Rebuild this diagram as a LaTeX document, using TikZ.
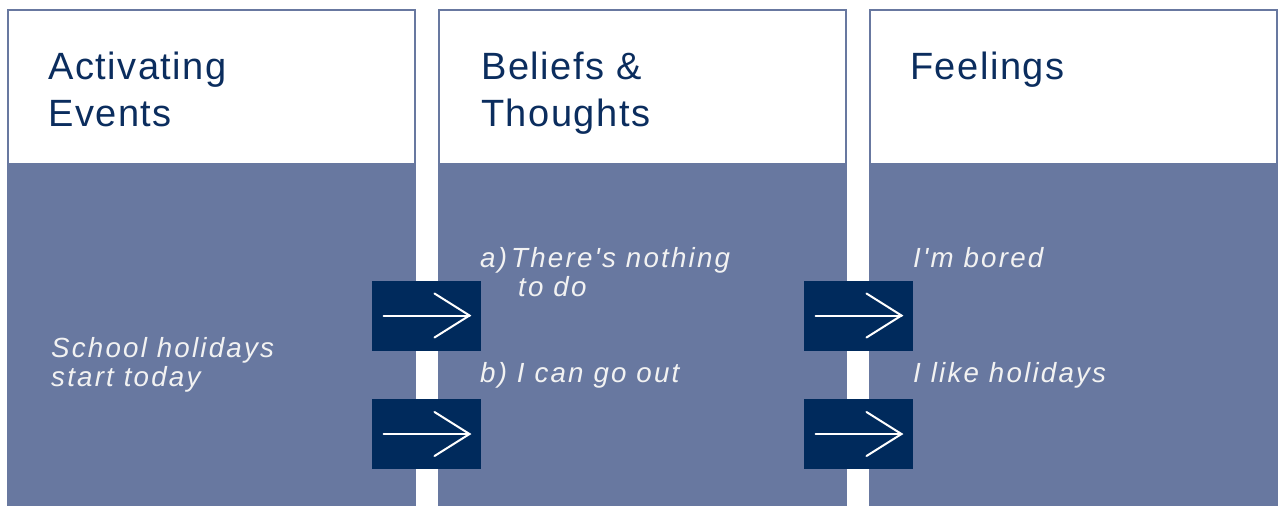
\documentclass[tikz,border=0pt]{standalone}
\usepackage{fontspec}
\setmainfont{Liberation Sans}
\newfontfamily\headfont[LetterSpace=4]{Liberation Sans}
\newfontfamily\bodyfont[LetterSpace=8]{Liberation Sans}
\definecolor{panelblue}{HTML}{6878A0}
\definecolor{boxnavy}{HTML}{002A5C}
\definecolor{headtext}{HTML}{0B2D5E}
\definecolor{bodytext}{HTML}{F2F2F2}
\begin{document}
\begin{tikzpicture}[x=1pt,y=-1pt,
  header/.style={draw=panelblue,line width=2pt,fill=white},
  body/.style={fill=panelblue},
  headlbl/.style={anchor=base west,inner sep=0pt,text=headtext,font=\headfont\fontsize{38}{46}\selectfont},
  bodylbl/.style={anchor=base west,inner sep=0pt,text=bodytext,font=\bodyfont\itshape\fontsize{27.7}{30}\selectfont},
  arrowbox/.style={fill=boxnavy,minimum width=109pt,minimum height=70pt,inner sep=0pt,draw=none},
  arrowline/.style={draw=white,line width=2pt,line cap=round,line join=miter}
]
\useasboundingbox (0,0) rectangle (1281,506);
\fill[white] (0,0) rectangle (1281,506);
% panels
\foreach \name/\xa/\xb in {p1/8/415, p2/439/846, p3/870/1277}{
  \draw[header] (\xa,10) rectangle (\xb,164);
  \fill[body] (\xa-1,164) rectangle (\xb+1,506);
}
% headings
\node[headlbl] (h1a) at (48,79) {Activating};
\node[headlbl] (h1b) at (48,126) {Events};
\node[headlbl] (h2a) at (481,79) {Beliefs \&};
\node[headlbl] (h2b) at (481,126) {Thoughts};
\node[headlbl] (h3a) at (910,79) {Feelings};
% body texts
\node[bodylbl] (t1a) at (51,357) {School holidays};
\node[bodylbl] (t1b) at (51,386) {start today};
\node[bodylbl] (t2a) at (480,267) {a)};
\node[bodylbl] (t2b) at (511,267) {There's nothing};
\node[bodylbl] (t2c) at (518,296) {to do};
\node[bodylbl] (t2d) at (480,382) {b) I can go out};
\node[bodylbl] (t3a) at (913,267) {I'm bored};
\node[bodylbl] (t3b) at (913,382) {I like holidays};
% arrow boxes
\foreach \name/\cx/\cy in {b1/426.5/315.5, b2/426.5/434, b3/858.5/315.5, b4/858.5/434}{
  \node[arrowbox] (\name) at (\cx,\cy) {};
  \draw[arrowline] ([xshift=-43pt]\name.center) -- ([xshift=43pt]\name.center);
  \draw[arrowline] ([xshift=8pt,yshift=22pt]\name.center) -- ([xshift=43pt]\name.center) -- ([xshift=8pt,yshift=-22pt]\name.center);
}
\end{tikzpicture}
\end{document}
